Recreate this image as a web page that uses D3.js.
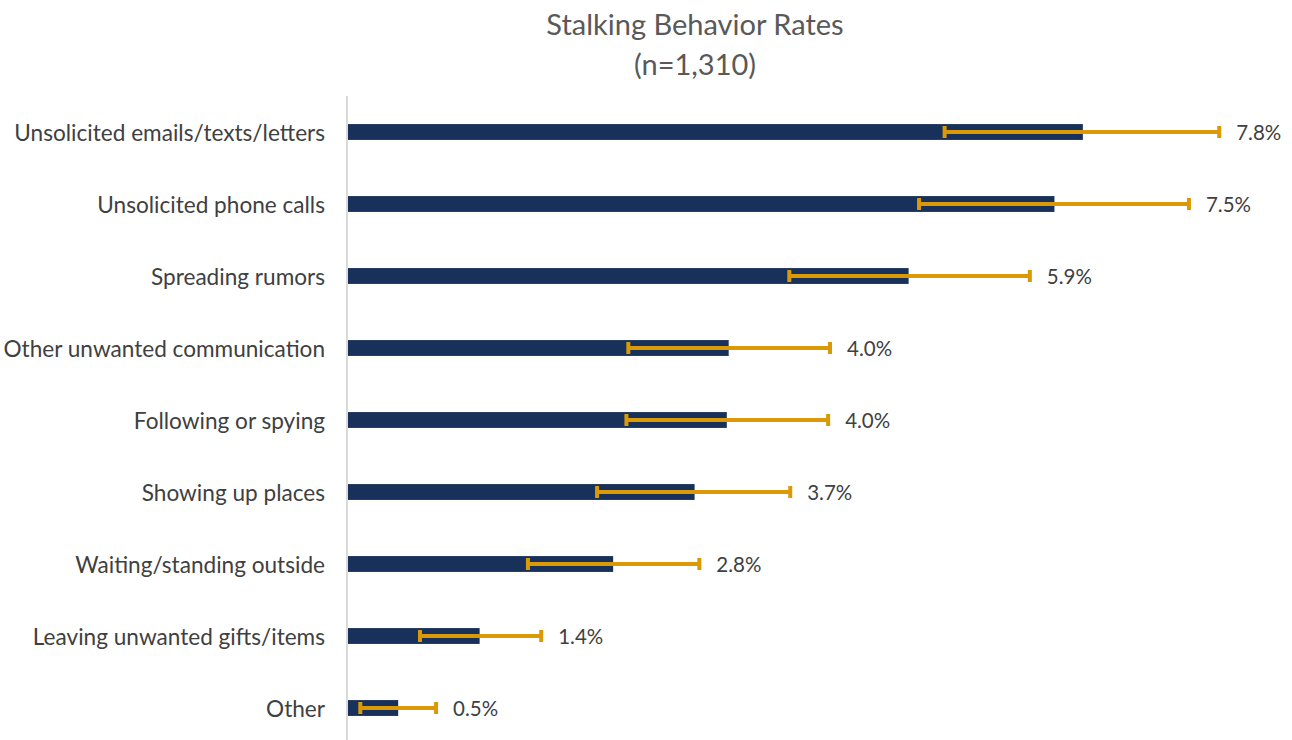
<!DOCTYPE html>
<html>
<head>
<meta charset="utf-8">
<script src="https://cdn.jsdelivr.net/npm/d3@7"></script>
<style>
  body { margin: 0; background: #fff; }
  svg text { font-family: Lato, "Open Sans", sans-serif; }
</style>
</head>
<body>
<div id="chart"></div>
<script>
const categories = [
  'Unsolicited emails/texts/letters',
  'Unsolicited phone calls',
  'Spreading rumors',
  'Other unwanted communication',
  'Following or spying',
  'Showing up places',
  'Waiting/standing outside',
  'Leaving unwanted gifts/items',
  'Other'
];
const rates = [7.76, 7.46, 5.92, 4.02, 4.0, 3.66, 2.8, 1.39, 0.53];
const lowerCI = [6.3, 6.03, 4.66, 2.96, 2.94, 2.63, 1.9, 0.76, 0.13];
const upperCI = [9.2, 8.88, 7.2, 5.09, 5.07, 4.67, 3.71, 2.04, 0.93];

const width = 1292;
const height = 740;
const barColor = '#17315a';
const errColor = '#db9a05';

const rows = categories.map((c, i) => ({
  name: c, value: rates[i], lo: lowerCI[i], hi: upperCI[i]
}));

const svg = d3.select('#chart')
  .append('svg')
  .attr('width', width)
  .attr('height', height);

const fx = d3.scaleLinear()
  .domain([0, 10])
  .range([348, 348 + 947]);

const fy = d3.scaleBand()
  .domain(categories)
  .range([96, 744])
  .paddingInner(0.78)
  .paddingOuter(0.39);

// title
svg.append('text')
  .attr('x', 695)
  .attr('y', 35)
  .attr('text-anchor', 'middle')
  .attr('font-size', 29)
  .attr('fill', '#595959')
  .text('Stalking Behavior Rates');

svg.append('text')
  .attr('x', 695)
  .attr('y', 75)
  .attr('text-anchor', 'middle')
  .attr('font-size', 29)
  .attr('fill', '#595959')
  .text('(n=1,310)');

// bars
svg.append('g')
  .selectAll('rect')
  .data(rows)
  .join('rect')
  .attr('x', fx(0))
  .attr('y', d => fy(d.name))
  .attr('width', d => fx(d.value) - fx(0))
  .attr('height', fy.bandwidth())
  .attr('fill', barColor);

// category axis
const yAxis = svg.append('g')
  .attr('transform', `translate(${fx(0) - 1},0)`)
  .call(d3.axisLeft(fy).tickSize(0).tickPadding(22));

yAxis.select('.domain')
  .attr('d', `M0,96V${height}`)
  .attr('stroke', '#d9d9d9')
  .attr('stroke-width', 2);

yAxis.selectAll('text')
  .attr('font-size', 22.6)
  .attr('dy', '0.4em')
  .attr('fill', '#404040');

// error bars
const err = svg.append('g')
  .selectAll('g')
  .data(rows)
  .join('g')
  .attr('transform', d => `translate(0,${fy(d.name) + fy.bandwidth() / 2})`);

err.append('line')
  .attr('x1', d => fx(d.lo))
  .attr('x2', d => fx(d.hi))
  .attr('stroke', errColor)
  .attr('stroke-width', 4);

err.selectAll('.cap')
  .data(d => [d.lo, d.hi])
  .join('line')
  .attr('class', 'cap')
  .attr('x1', d => fx(d))
  .attr('x2', d => fx(d))
  .attr('y1', -6)
  .attr('y2', 6)
  .attr('stroke', errColor)
  .attr('stroke-width', 4);

// value labels
err.append('text')
  .attr('x', d => fx(d.hi) + 17)
  .attr('dy', '0.4em')
  .attr('font-size', 20.5)
  .attr('fill', '#404040')
  .text(d => `${d.value.toFixed(1)}%`);
</script>
</body>
</html>
